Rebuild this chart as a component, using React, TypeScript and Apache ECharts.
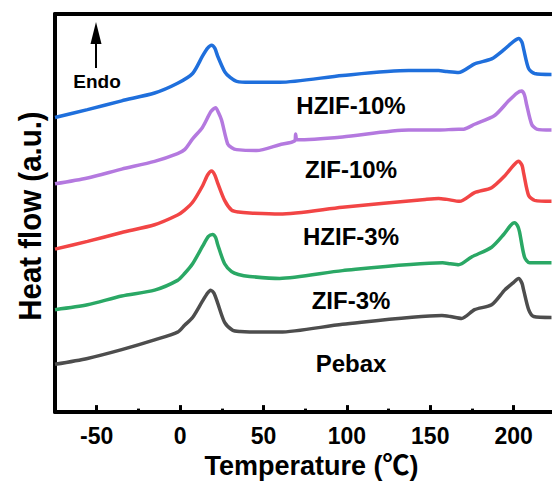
import React, { useEffect, useRef } from "react";
import * as echarts from "echarts";

// Temperature (°C) vs heat flow (a.u., arbitrary vertical offsets)
const hzif10: [number, number][] = [
  [-75, 304], [-55.5, 312], [-35, 321], [-15.3, 329], [-1.5, 339], [7.5, 349], [13.5, 367], [16.5, 375],
  [18.9, 378], [20.8, 375], [22.5, 367], [26.7, 351], [30, 345], [33.9, 341], [41.7, 340], [59.7, 340],
  [97.4, 347], [137, 352], [155, 352], [160, 351], [167, 350], [176.6, 359], [186.8, 364], [194.6, 374],
  [200, 382], [203, 385], [205, 381], [206, 374], [209, 354], [212.6, 349], [222.7, 348],
];
const zif10: [number, number][] = [
  [-75, 236], [-55.5, 242], [-35, 251], [-15.3, 259], [-1.5, 267], [2.7, 271], [7.5, 282], [13.5, 294],
  [18.5, 310], [21.3, 314], [23, 309], [24.9, 301], [28.5, 277], [31, 273], [33.9, 271], [45.9, 270],
  [59.7, 276], [68.7, 280], [69.3, 287], [70.2, 281], [97.4, 284], [137, 291], [155, 291], [167, 292],
  [170, 292], [176.6, 297], [188.6, 306], [197, 321], [202, 329], [204.8, 331], [206.5, 327],
  [207.8, 317], [210.8, 297], [213.8, 292], [222.7, 291],
];
const hzif3: [number, number][] = [
  [-75, 169], [-55.5, 177], [-35, 186], [-15.3, 194], [-1.5, 204], [2.7, 209], [7.5, 217], [13.5, 234],
  [16.5, 245], [18.9, 249], [20.8, 245], [22.5, 237], [26.7, 219], [30.9, 209], [35, 207], [41.7, 206],
  [59.7, 205], [97.4, 212], [147, 220], [155, 221], [160, 220], [167.6, 218], [176.6, 227], [186.8, 232],
  [194.6, 244], [200, 255], [203, 259], [205, 255], [206, 247], [209, 224], [212.6, 219], [222.7, 218],
];
const zif3: [number, number][] = [
  [-75, 107], [-55.5, 112], [-35, 121], [-15.3, 127], [-1.5, 137], [2.7, 144], [7.5, 154], [13.5, 172],
  [17, 182], [19.5, 184], [21.3, 181], [22.5, 174], [26.7, 154], [30.9, 146], [35, 143], [41.7, 141],
  [59.7, 139], [97.4, 147], [157.4, 155], [162, 154], [167, 153], [174.8, 161], [186.8, 171], [194, 184],
  [198, 193], [200.5, 196], [202.3, 193], [203.5, 187], [206.5, 161], [209.6, 155], [222.7, 155],
];
const pebax: [number, number][] = [
  [-75, 51], [-55.5, 57], [-35, 66], [-15.3, 76], [-1.5, 84], [2.7, 91], [7.5, 99], [13.5, 116],
  [16.5, 124], [18.3, 127], [20.3, 124], [22.5, 114], [26.7, 94], [31.5, 86], [36, 84.5], [41.7, 84],
  [59.7, 84], [97.4, 92], [157, 101], [162, 100], [168.8, 98], [176.6, 107], [186.8, 112], [194.6, 127],
  [200, 135], [203, 139], [205, 134], [206, 127], [209, 107], [212, 100], [222.7, 99],
];

const seriesNames = ["HZIF-10%", "ZIF-10%", "HZIF-3%", "ZIF-3%", "Pebax"];
const seriesData = [hzif10, zif10, hzif3, zif3, pebax];
const seriesColors = ["#1f6fdc", "#b479df", "#f24545", "#2aa865", "#4d4d4d"];
const majorTicks = [-50, 0, 50, 100, 150, 200];
const minorTicks = [-25, 25, 75, 125, 175];
const labelY = [105.5, 169, 236, 300, 363];

const FONT = 'Arial, "Liberation Sans", "Noto Sans CJK SC", sans-serif';

export default function App() {
  const ref = useRef<HTMLDivElement>(null);
  useEffect(() => {
    document.body.style.margin = "0";
    const chart = echarts.init(ref.current!, undefined, { renderer: "svg" });
    const axisBase = { type: "value" as const, min: -75, max: 223, splitLine: { show: false } };
    chart.setOption({
      animation: false,
      backgroundColor: "#fff",
      grid: { left: 55, top: 14, width: 497, height: 408, containLabel: false },
      xAxis: [
        {
          ...axisBase,
          position: "bottom",
          axisLine: { show: true, onZero: false, lineStyle: { color: "#000", width: 4 } },
          axisTick: { show: true, inside: true, length: 7, lineStyle: { color: "#000", width: 3 }, customValues: majorTicks },
          axisLabel: {
            show: true, customValues: majorTicks, color: "#000", fontSize: 23, fontWeight: "bold",
            fontFamily: FONT, margin: 12,
          },
          name: "Temperature (℃)",
          nameLocation: "middle",
          nameGap: 34,
          nameTextStyle: { color: "#000", fontSize: 27, fontWeight: "bold", fontFamily: FONT, padding: [0, 0, 0, 16] },
        },
        {
          ...axisBase,
          position: "bottom",
          axisLine: { show: false, onZero: false },
          axisTick: { show: true, inside: true, length: 3.5, lineStyle: { color: "#000", width: 3 }, customValues: minorTicks },
          axisLabel: { show: false },
        },
        {
          ...axisBase,
          position: "top",
          axisLine: { show: true, onZero: false, lineStyle: { color: "#000", width: 4 } },
          axisTick: { show: false },
          axisLabel: { show: false },
        },
      ],
      yAxis: {
        type: "value",
        min: 2,
        max: 410,
        position: "left",
        axisLine: { show: true, onZero: false, lineStyle: { color: "#000", width: 4 } },
        axisTick: { show: false },
        axisLabel: { show: false },
        splitLine: { show: false },
      },
      series: seriesData.map((d, i) => ({
        name: seriesNames[i],
        type: "line",
        data: d,
        xAxisIndex: 0,
        showSymbol: false,
        smooth: 0.25,
        lineStyle: { color: seriesColors[i], width: 3.5 },
        clip: true,
      })),
      graphic: [
        { type: "line", shape: { x1: 96, y1: 68, x2: 96, y2: 40 }, style: { stroke: "#000", lineWidth: 2 } },
        { type: "polygon", shape: { points: [[90.5, 44], [96, 22], [101.5, 44]] }, style: { fill: "#000" } },
        {
          type: "text", x: 97, y: 81,
          style: { text: "Endo", fill: "#000", fontSize: 19, fontWeight: "bold", fontFamily: FONT, align: "center", verticalAlign: "middle" },
        },
        ...seriesNames.map((n, i) => ({
          type: "text", x: 351, y: labelY[i],
          style: { text: n, fill: "#000", fontSize: 24, fontWeight: "bold", fontFamily: FONT, align: "center", verticalAlign: "middle" },
        })),
        {
          type: "text", x: 30, y: 216, rotation: Math.PI / 2, scaleX: 0.92,
          style: { text: "Heat flow (a.u.)", fill: "#000", fontSize: 32, fontWeight: "bold", fontFamily: FONT, align: "center", verticalAlign: "middle" },
        },
      ],
    });
    return () => chart.dispose();
  }, []);
  return <div ref={ref} style={{ width: 552, height: 484 }} />;
}
